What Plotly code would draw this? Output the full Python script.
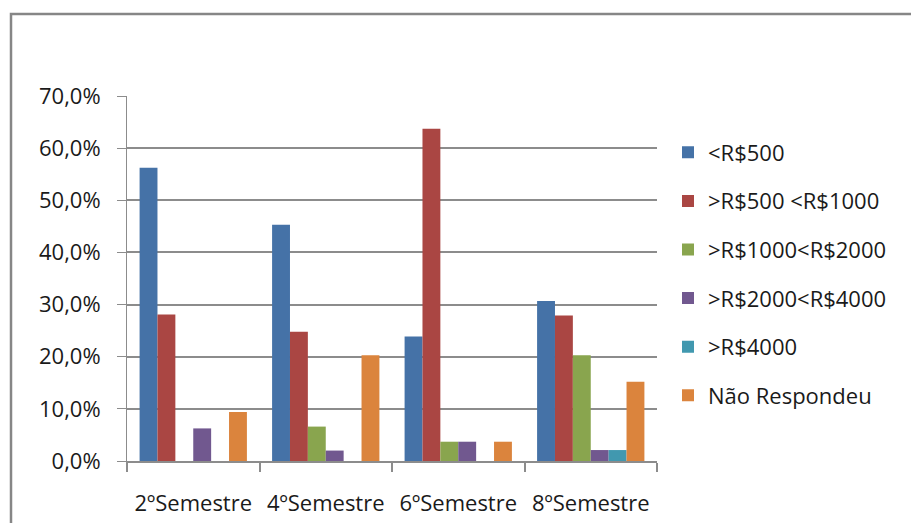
import plotly.graph_objects as go

# Income distribution by semester (share of respondents)
semestres = ["2ºSemestre", "4ºSemestre", "6ºSemestre", "8ºSemestre"]

faixas = [
    "<R$500",
    ">R$500 <R$1000",
    ">R$1000<R$2000",
    ">R$2000<R$4000",
    ">R$4000",
    "Não Respondeu",
]

ate_500 = [0.5625, 0.453, 0.239, 0.307]
de_500_a_1000 = [0.281, 0.248, 0.637, 0.279]
de_1000_a_2000 = [0.0, 0.066, 0.037, 0.203]
de_2000_a_4000 = [0.0625, 0.020, 0.037, 0.021]
acima_4000 = [0.0, 0.0, 0.0, 0.021]
nao_respondeu = [0.094, 0.203, 0.037, 0.152]

series = [ate_500, de_500_a_1000, de_1000_a_2000, de_2000_a_4000, acima_4000, nao_respondeu]
cores = ["#4572A7", "#AA4643", "#89A54E", "#71588F", "#4198AF", "#DB843D"]

FONT = "Open Sans"
FSIZE = 22
TXT = "#1a1a1a"
GRAY = "#8c8c8c"

fig = go.Figure()
for i, (nome, valores, cor) in enumerate(zip(faixas, series, cores)):
    fig.add_trace(go.Bar(
        name=nome,
        x=semestres,
        y=valores,
        marker=dict(color=cor, line=dict(width=0)),
        legendgroup=f"g{i}",
    ))

W, H = 911, 523
ML, MR, MT, MB = 127, 254, 96, 62
pw = W - ML - MR
ph = H - MT - MB

fig.update_layout(
    width=W,
    height=H,
    margin=dict(l=ML, r=MR, t=MT, b=MB, pad=0, autoexpand=False),
    paper_bgcolor="white",
    plot_bgcolor="white",
    separators=",.",
    barmode="group",
    bargap=0.19,
    bargroupgap=0,
    font=dict(family=FONT, size=FSIZE, color=TXT),
    showlegend=True,
    legend=dict(
        x=(668 - ML) / pw,
        xanchor="left",
        y=(H - MB - 274) / ph,
        yanchor="middle",
        tracegroupgap=17,
        font=dict(family=FONT, size=FSIZE, color=TXT),
        bgcolor="rgba(0,0,0,0)",
    ),
    xaxis=dict(
        type="category",
        automargin=False,
        showline=True,
        linecolor=GRAY,
        linewidth=2,
        ticks="outside",
        tickson="boundaries",
        ticklen=9,
        tickcolor=GRAY,
        tickwidth=2,
        showgrid=False,
        ticklabelstandoff=22,
        tickfont=dict(family=FONT, size=FSIZE, color=TXT),
    ),
    yaxis=dict(
        automargin=False,
        range=[0, 0.7],
        dtick=0.1,
        tick0=0,
        tickformat=".1%",
        showline=True,
        linecolor=GRAY,
        linewidth=1,
        ticks="outside",
        ticklen=9,
        tickcolor=GRAY,
        tickwidth=1,
        showgrid=True,
        gridcolor=GRAY,
        gridwidth=1.5,
        zeroline=False,
        ticklabelstandoff=12,
        tickfont=dict(family=FONT, size=FSIZE, color=TXT),
    ),
)

# Chart frame
fig.add_shape(
    type="rect",
    xref="paper", yref="paper",
    x0=(11 - ML) / pw, x1=(W + 10 - ML) / pw,
    y0=(H - MB - (H + 10)) / ph, y1=(H - MB - 14) / ph,
    line=dict(color="#868686", width=2.5),
    fillcolor="rgba(0,0,0,0)",
    layer="below",
)

fig.write_html("out.html")
